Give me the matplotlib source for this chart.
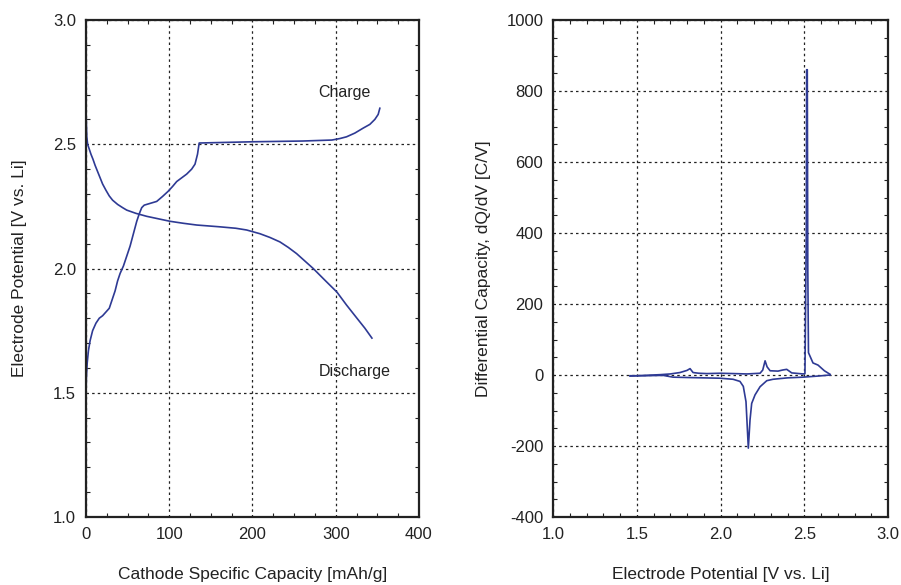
import numpy as np
import matplotlib
matplotlib.use("Agg")
import matplotlib.pyplot as plt
from matplotlib.ticker import MultipleLocator

plt.rcParams['font.family'] = ['Liberation Sans', 'DejaVu Sans']
plt.rcParams['axes.unicode_minus'] = False

# left panel: voltage profile (capacity in mAh/g, potential in V vs Li)
charge_cap = [0, 0.5, 1.5, 3, 5, 8, 12, 16, 20, 24, 28, 31, 35, 38, 41, 45, 49, 53, 57, 61, 64, 67,
              70, 77, 85, 92, 98.5, 104, 109, 115, 121, 127, 131, 134, 136,
              200, 260, 295.5, 305, 313, 323, 333, 341, 347, 351, 353]
charge_v = [1.48, 1.56, 1.62, 1.67, 1.71, 1.75, 1.78, 1.80, 1.81, 1.825, 1.84, 1.87, 1.91, 1.95,
            1.98, 2.01, 2.05, 2.09, 2.14, 2.19, 2.22, 2.245, 2.255, 2.262, 2.27, 2.29, 2.31, 2.33,
            2.35, 2.365, 2.38, 2.40, 2.42, 2.46, 2.505,
            2.51, 2.513, 2.517, 2.523, 2.53, 2.545, 2.565, 2.58, 2.60, 2.62, 2.645]

discharge_cap = [0, 0.5, 1, 2, 4, 6, 8.4, 11, 14, 17, 20, 24, 28, 32, 38, 44, 49, 60, 73, 87, 101,
                 117, 133, 160, 180, 193, 209, 221, 233, 243, 253, 263, 273, 287, 301.5, 313,
                 325.5, 335, 343.5]
discharge_v = [2.65, 2.58, 2.53, 2.50, 2.48, 2.46, 2.44, 2.415, 2.39, 2.365, 2.34, 2.315, 2.292,
               2.275, 2.258, 2.245, 2.235, 2.222, 2.21, 2.2, 2.19, 2.182, 2.175, 2.168, 2.162,
               2.155, 2.14, 2.125, 2.107, 2.085, 2.06, 2.03, 2.0, 1.953, 1.905, 1.853, 1.80,
               1.76, 1.72]

# right panel: differential capacity (dQ/dV in C/V vs potential)
dqdv_charge_v = [1.46, 1.55, 1.639, 1.70, 1.758, 1.80, 1.818, 1.836, 1.87, 1.919, 1.997, 2.08, 2.158,
                 2.236, 2.252, 2.266, 2.278, 2.296, 2.343, 2.37, 2.395, 2.425, 2.493, 2.504,
                 2.512, 2.514, 2.518, 2.521, 2.525, 2.552, 2.582, 2.62, 2.654]
dqdv_charge = [-3, -1, 1, 3, 7, 13, 18, 7, 5, 4, 5, 4, 3, 5, 14, 40, 23, 12, 11, 14, 16, 6, 3, 4,
               400, 860, 860, 300, 63, 34, 28, 12, 2]

dqdv_discharge_v = [2.654, 2.58, 2.493, 2.40, 2.313, 2.276, 2.236, 2.206, 2.186, 2.176, 2.166,
                    2.152, 2.136, 2.116, 2.075, 1.997, 1.90, 1.800, 1.716, 1.657, 1.55, 1.46]
dqdv_discharge = [0, -3, -6, -8, -12, -16, -33, -56, -80, -127, -206, -75, -32, -18, -12, -9,
                  -8, -7, -6, -1, -2, -2]

line_color = '#2e3a94'

fig = plt.figure(figsize=(9.01, 5.85), dpi=100)
ax1 = fig.add_axes([0.0954, 0.1162, 0.3696, 0.8496])
ax2 = fig.add_axes([0.6138, 0.1162, 0.3718, 0.8496])

ax1.plot(charge_cap, charge_v, color=line_color, lw=1.2)
ax1.plot(discharge_cap, discharge_v, color=line_color, lw=1.2)
ax1.set_xlim(0, 400)
ax1.set_ylim(1.0, 3.0)
ax1.set_xticks([0, 100, 200, 300, 400])
ax1.set_yticks([1.0, 1.5, 2.0, 2.5, 3.0])
ax1.set_yticklabels(['1.0', '1.5', '2.0', '2.5', '3.0'])
ax1.xaxis.set_minor_locator(MultipleLocator(25))
ax1.yaxis.set_minor_locator(MultipleLocator(0.1))
ax1.set_xlabel("Cathode Specific Capacity [mAh/g]", labelpad=18)
ax1.set_ylabel("Electrode Potential [V vs. Li]", labelpad=19)
ax1.text(311, 2.71, "Charge", ha='center', va='center', fontsize=11.5, color='#222222')
ax1.text(323, 1.587, "Discharge", ha='center', va='center', fontsize=11.5, color='#222222')

ax2.plot(dqdv_charge_v, dqdv_charge, color=line_color, lw=1.2)
ax2.plot(dqdv_discharge_v, dqdv_discharge, color=line_color, lw=1.2)
ax2.set_xlim(1.0, 3.0)
ax2.set_ylim(-400, 1000)
ax2.set_xticks([1.0, 1.5, 2.0, 2.5, 3.0])
ax2.set_xticklabels(['1.0', '1.5', '2.0', '2.5', '3.0'])
ax2.set_yticks(range(-400, 1001, 200))
ax2.xaxis.set_minor_locator(MultipleLocator(0.1))
ax2.yaxis.set_minor_locator(MultipleLocator(50))
ax2.set_xlabel("Electrode Potential [V vs. Li]", labelpad=18)
ax2.set_ylabel("Differential Capacity, dQ/dV [C/V]", labelpad=11)

for ax in (ax1, ax2):
    ax.grid(True, which='major', color='#222222', linestyle=(0, (2, 2.5)), linewidth=0.9)
    ax.tick_params(which='both', direction='in', top=True, right=True, labelsize=12, colors='#222222')
    ax.tick_params(which='major', length=0, pad=7)
    ax.tick_params(which='minor', length=3, width=0.8)
    ax.xaxis.label.set_size(12.5)
    ax.yaxis.label.set_size(12.5)
    ax.xaxis.label.set_color('#222222')
    ax.yaxis.label.set_color('#222222')
    for s in ax.spines.values():
        s.set_linewidth(1.6)
        s.set_color('#222222')

fig.savefig("out.png", dpi=100)
